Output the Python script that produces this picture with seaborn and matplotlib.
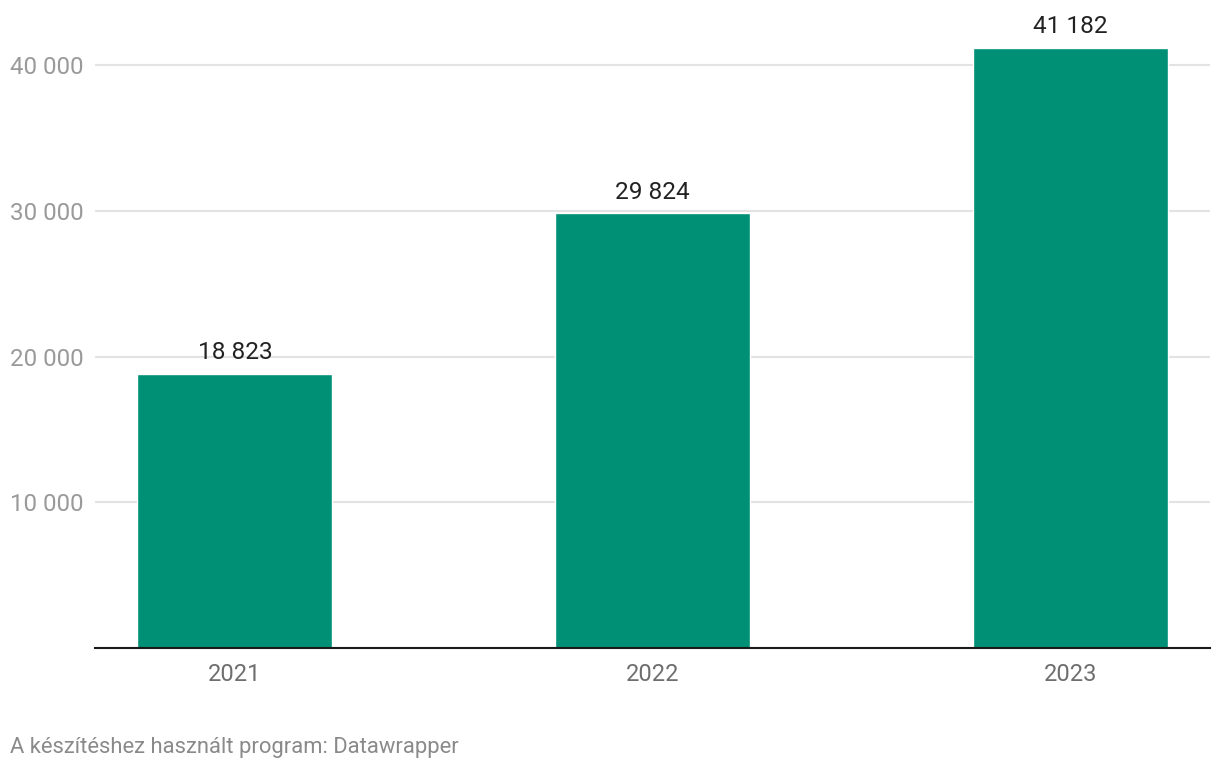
import matplotlib
matplotlib.use("Agg")
import matplotlib.pyplot as plt
import seaborn as sns
import pandas as pd

years = ["2021", "2022", "2023"]
values = [18823, 29824, 41182]
yticks = [10000, 20000, 30000, 40000]
ytick_labels = ["10 000", "20 000", "30 000", "40 000"]
footer = "A készítéshez használt program: Datawrapper"

sns.set_theme(style="white")
plt.rcParams['font.family'] = ['Roboto', 'DejaVu Sans']

df = pd.DataFrame({"year": years, "value": values})

W, H = 1220, 770
fig = plt.figure(figsize=(W / 100, H / 100), dpi=100)
ax = fig.add_axes([95 / W, (H - 648) / H, (1210 - 95) / W, (648 - 40) / H])

sns.barplot(data=df, x="year", y="value", color="#009076", width=0.467,
            saturation=1, ax=ax, zorder=3)

ax.set_xlim(-0.335, 2.335)
ax.set_ylim(0, (648 - 40) / ((648 - 65) / 4) * 10000)

ax.set_yticks(yticks)
ax.set_yticklabels(ytick_labels)
for lab in ax.get_yticklabels():
    lab.set_horizontalalignment("left")
ax.tick_params(axis="y", length=0, pad=61, labelsize=17.4, labelcolor="#9a9a9a")
ax.tick_params(axis="x", length=0, pad=11, labelsize=17, labelcolor="#6e6e6e")
ax.yaxis.grid(True, color="#e3e3e3", linewidth=1.5, zorder=0)
ax.set_axisbelow(True)
ax.set_xlabel("")
ax.set_ylabel("")

for s in ["top", "right", "left"]:
    ax.spines[s].set_visible(False)
ax.spines["bottom"].set_color("#1a1a1a")
ax.spines["bottom"].set_linewidth(1.5)
ax.spines["bottom"].set_zorder(4)

for i, v in enumerate(values):
    ax.annotate(f"{v:,}".replace(",", " "), xy=(i, v), xytext=(0, 7),
                textcoords="offset points", ha="center", va="bottom",
                fontsize=17.6, color="#222222")

fig.text(10 / W, (H - 748) / H, footer, ha="left", va="center",
         fontsize=15.8, color="#8a8a8a")

fig.savefig("out.png", dpi=100, facecolor="white")
